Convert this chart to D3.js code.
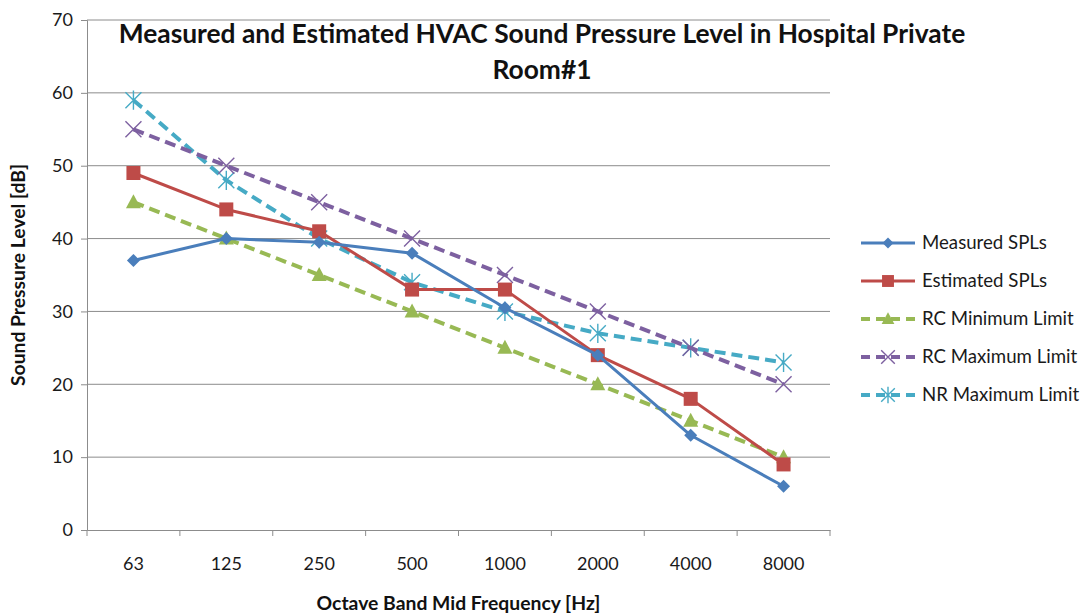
<!DOCTYPE html>
<html>
<head>
<meta charset="utf-8">
<script src="https://cdn.jsdelivr.net/npm/d3@7"></script>
<style>
  html, body { margin: 0; padding: 0; background: #fff; }
  svg { display: block; font-family: Lato, "Open Sans", "DejaVu Sans", sans-serif; }
</style>
</head>
<body>
<svg id="chart" width="1091" height="616"></svg>
<script>
// Octave band categories and sound pressure levels (dB)
const frequencies = ["63", "125", "250", "500", "1000", "2000", "4000", "8000"];
const measuredSPL  = [37, 40, 39.5, 38, 30.5, 24, 13, 6];
const estimatedSPL = [49, 44, 41, 33, 33, 24, 18, 9];
const rcMinLimit   = [45, 40, 35, 30, 25, 20, 15, 10];
const rcMaxLimit   = [55, 50, 45, 40, 35, 30, 25, 20];
const nrMaxLimit   = [59, 48, 40, 34, 30, 27, 25, 23];
const yTicks = [0, 10, 20, 30, 40, 50, 60, 70];

const seriesNames = ["Measured SPLs", "Estimated SPLs", "RC Minimum Limit", "RC Maximum Limit", "NR Maximum Limit"];
const seriesValues = [measuredSPL, estimatedSPL, rcMinLimit, rcMaxLimit, nrMaxLimit];
const seriesColors = ["#4A7EBB", "#BE4B48", "#98B954", "#7D60A0", "#46AAC5"];
const seriesDashed = [false, false, true, true, true];
const seriesMarkers = ["diamond", "square", "triangle", "cross", "asterisk"];

const svg = d3.select("#chart");
const plot = { left: 87, right: 830, top: 20, bottom: 530 };

const x = d3.scaleBand().domain(frequencies).range([plot.left, plot.right]).padding(0);
const y = d3.scaleLinear().domain([0, 70]).range([plot.bottom, plot.top]);

const gridColor = "#8c8c8c";
const textColor = "#1a1a1a";

// shrink or grow a text node's font so that it spans the given width
function fitWidth(sel, baseSize, width) {
  sel.attr("font-size", baseSize);
  const w = sel.node().getComputedTextLength();
  const size = baseSize * width / w;
  sel.attr("font-size", size);
  return size;
}

// horizontal gridlines
svg.append("g")
  .selectAll("line")
  .data(yTicks.filter(d => d > 0))
  .join("line")
  .attr("x1", plot.left).attr("x2", plot.right)
  .attr("y1", d => y(d)).attr("y2", d => y(d))
  .attr("stroke", gridColor).attr("stroke-width", 1);

// y axis
const yAxis = svg.append("g")
  .attr("transform", `translate(${plot.left},0)`)
  .call(d3.axisLeft(y).tickValues(yTicks).tickSize(6).tickPadding(8));
yAxis.select(".domain").attr("stroke", gridColor);
yAxis.selectAll(".tick line").attr("stroke", gridColor);
yAxis.selectAll("text").attr("font-size", 18).attr("fill", textColor)
  .attr("font-family", "Lato, 'Open Sans', sans-serif");

// x axis: boundary ticks between categories
const xAxis = svg.append("g")
  .attr("transform", `translate(0,${plot.bottom})`)
  .call(d3.axisBottom(x).tickSize(0).tickPadding(27));
xAxis.select(".domain").attr("stroke", gridColor);
xAxis.selectAll("text").attr("font-size", 18).attr("fill", textColor)
  .attr("font-family", "Lato, 'Open Sans', sans-serif");
svg.append("g")
  .selectAll("line")
  .data(frequencies.map(f => x(f) + x.bandwidth()).concat([plot.left]))
  .join("line")
  .attr("x1", d => d).attr("x2", d => d)
  .attr("y1", plot.bottom).attr("y2", plot.bottom + 6)
  .attr("stroke", gridColor);

// marker shapes
function drawMarker(g, type, color, cx, cy, scale = 1) {
  const s = scale;
  if (type === "diamond") {
    g.append("path").attr("d", `M${cx},${cy - 6.5 * s}L${cx + 6.5 * s},${cy}L${cx},${cy + 6.5 * s}L${cx - 6.5 * s},${cy}Z`)
      .attr("fill", color);
  } else if (type === "square") {
    g.append("rect").attr("x", cx - 7 * s).attr("y", cy - 7 * s)
      .attr("width", 14 * s).attr("height", 14 * s).attr("fill", color);
  } else if (type === "triangle") {
    g.append("path").attr("d", `M${cx},${cy - 8 * s}L${cx + 7.5 * s},${cy + 6 * s}L${cx - 7.5 * s},${cy + 6 * s}Z`)
      .attr("fill", color);
  } else if (type === "cross") {
    const r = 8 * s;
    g.append("path").attr("d", `M${cx - r},${cy - r}L${cx + r},${cy + r}M${cx - r},${cy + r}L${cx + r},${cy - r}`)
      .attr("stroke", color).attr("stroke-width", 1.4).attr("fill", "none");
  } else if (type === "asterisk") {
    const r = 8 * s;
    g.append("path").attr("d", `M${cx - r},${cy - r}L${cx + r},${cy + r}M${cx - r},${cy + r}L${cx + r},${cy - r}M${cx},${cy - r * 1.2}L${cx},${cy + r * 1.2}`)
      .attr("stroke", color).attr("stroke-width", 1.4).attr("fill", "none");
  }
}

const line = d3.line()
  .x((d, i) => x(frequencies[i]) + x.bandwidth() / 2)
  .y(d => y(d));

// draw series in reverse so the measured line sits on top
const order = [4, 3, 2, 1, 0];
order.forEach(k => {
  const g = svg.append("g");
  g.append("path")
    .datum(seriesValues[k])
    .attr("d", line)
    .attr("fill", "none")
    .attr("stroke", seriesColors[k])
    .attr("stroke-width", seriesDashed[k] ? 4 : 3)
    .attr("stroke-dasharray", seriesDashed[k] ? "11,6" : null)
    .attr("stroke-linejoin", "round");
  seriesValues[k].forEach((v, i) => {
    drawMarker(g, seriesMarkers[k], seriesColors[k], x(frequencies[i]) + x.bandwidth() / 2, y(v));
  });
});

// title
const titleLines = ["Measured and Estimated HVAC Sound Pressure Level in Hospital Private", "Room#1"];
const titleG = svg.append("g");
const t1 = titleG.append("text")
  .attr("x", 542).attr("y", 43)
  .attr("text-anchor", "middle")
  .attr("font-weight", "bold").attr("fill", "#111")
  .text(titleLines[0]);
const fs = fitWidth(t1, 22, 847);
titleG.append("text")
  .attr("x", 542).attr("y", 79)
  .attr("text-anchor", "middle")
  .attr("font-weight", "bold").attr("font-size", fs).attr("fill", "#111")
  .text(titleLines[1]);

// axis titles
const yTitle = svg.append("text")
  .attr("transform", "translate(25,275) rotate(-90)")
  .attr("text-anchor", "middle")
  .attr("font-weight", "bold").attr("fill", "#111")
  .text("Sound Pressure Level [dB]");
fitWidth(yTitle, 14, 222);
const xTitle = svg.append("text")
  .attr("x", (plot.left + plot.right) / 2).attr("y", 610)
  .attr("text-anchor", "middle")
  .attr("font-weight", "bold").attr("fill", "#111")
  .text("Octave Band Mid Frequency [Hz]");
fitWidth(xTitle, 15, 284);

// legend
const legend = svg.append("g");
let legendSize = null;
seriesNames.forEach((name, k) => {
  const ly = 243 + k * 38;
  const g = legend.append("g");
  g.append("line")
    .attr("x1", 861).attr("x2", 915).attr("y1", ly).attr("y2", ly)
    .attr("stroke", seriesColors[k])
    .attr("stroke-width", seriesDashed[k] ? 4 : 3)
    .attr("stroke-dasharray", seriesDashed[k] ? "9,6" : null);
  drawMarker(g, seriesMarkers[k], seriesColors[k], 888, ly, 0.85);
  const t = g.append("text")
    .attr("x", 922).attr("y", ly + 6)
    .attr("fill", textColor)
    .text(name);
  if (legendSize === null) legendSize = fitWidth(t, 16, 125);
  else t.attr("font-size", legendSize);
});
</script>
</body>
</html>
